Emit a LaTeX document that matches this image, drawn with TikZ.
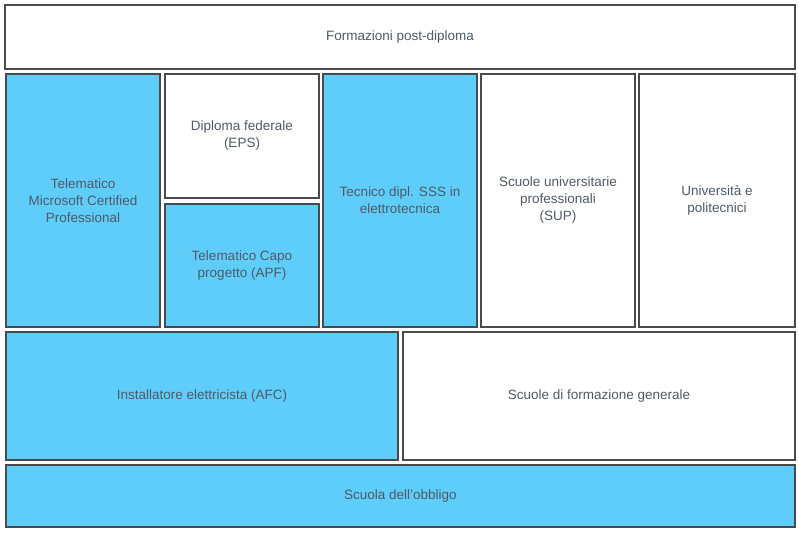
\documentclass[tikz,border=0pt]{standalone}
\usepackage{fontspec}
\setmainfont{Liberation Sans}
\definecolor{bl}{HTML}{5FCDFA}
\definecolor{ln}{HTML}{4A4A4A}
\definecolor{tx}{HTML}{4F5A66}
\begin{document}
\begin{tikzpicture}[x=1pt,y=-1pt,
 box/.style={draw=ln,line width=1.3pt,text=tx,align=center,font=\fontsize{13.5}{17}\selectfont},
 wb/.style={box,fill=white},bb/.style={box,fill=bl}]
\useasboundingbox (0,0) rectangle (799,532);
\newcommand\bx[6]{\draw[#1] (#3,#4) rectangle (#5,#6) node[midway,text=tx,align=center,font=\fontsize{13.5}{17}\selectfont] (#2) {\boxtext};}
\def\boxtext{Formazioni post-diploma}\bx{wb}{a}{5}{5}{795}{69}
\def\boxtext{Telematico\\Microsoft Certified\\Professional}\bx{bb}{b}{6}{74}{160}{327}
\def\boxtext{Diploma federale\\(EPS)}\bx{wb}{c}{165}{74}{319}{198}
\def\boxtext{Telematico Capo\\progetto (APF)}\bx{bb}{d}{165}{204}{319}{327}
\def\boxtext{Tecnico dipl. SSS in\\elettrotecnica}\bx{bb}{e}{323}{74}{477}{327}
\def\boxtext{Scuole universitarie\\professionali\\(SUP)}\bx{wb}{f}{481}{74}{635}{327}
\def\boxtext{Università e\\politecnici}\bx{wb}{g}{639}{74}{795}{327}
\def\boxtext{Installatore elettricista (AFC)}\bx{bb}{h}{6}{332}{398}{460}
\def\boxtext{Scuole di formazione generale}\bx{wb}{i}{403}{332}{795}{460}
\def\boxtext{Scuola dell'obbligo}\bx{bb}{j}{6}{465}{795}{527}
\end{tikzpicture}
\end{document}
